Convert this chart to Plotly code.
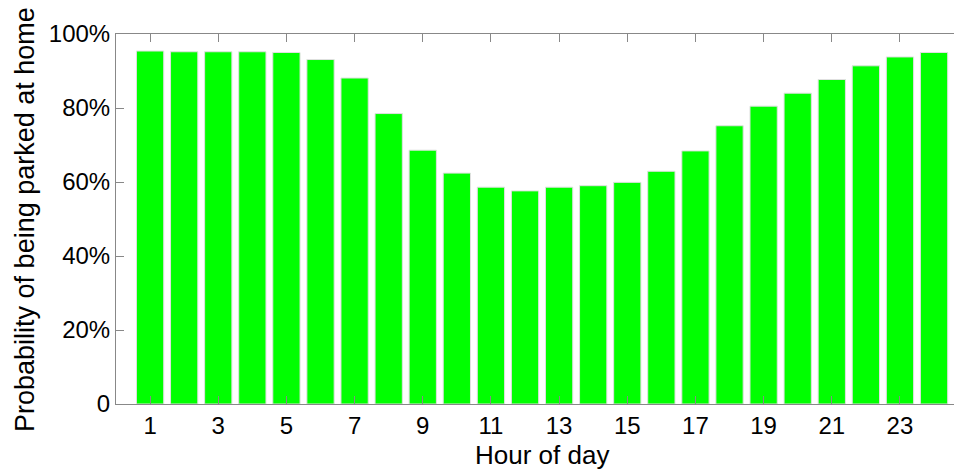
import plotly.graph_objects as go

# hourly probability of the car being parked at home
hours = list(range(1, 25))
prob_home = [0.954, 0.952, 0.952, 0.952, 0.950, 0.931, 0.881, 0.785, 0.686, 0.624, 0.586, 0.576,
             0.586, 0.590, 0.599, 0.629, 0.684, 0.752, 0.805, 0.840, 0.877, 0.914, 0.938, 0.950]

x_ticks = list(range(1, 24, 2))
y_ticks = [0, 0.2, 0.4, 0.6, 0.8, 1.0]
y_labels = ['0', '20%', '40%', '60%', '80%', '100%']

font = dict(family='Liberation Sans, Arial, sans-serif', size=24, color='black')

fig = go.Figure()

fig.add_trace(go.Bar(
    x=hours,
    y=prob_home,
    marker_color='#00ff00',
    marker_line_color='#e0e0e0',
    marker_line_width=1,
    width=0.8,
))

# page body adds an 8px offset, so the figure is a bit smaller than the window
fig.update_layout(
    width=954, height=463,
    margin=dict(l=108, r=0, t=26, b=67),
    plot_bgcolor='white',
    paper_bgcolor='white',
    font=font,
    showlegend=False,
)

fig.update_xaxes(
    range=[0, 24.82],
    tickvals=x_ticks,
    ticks='inside', ticklen=8, tickcolor='#888888',
    showline=True, linecolor='#888888', linewidth=1, mirror='ticks',
    showgrid=False, zeroline=False, automargin=False,
)

fig.update_yaxes(
    range=[0, 1],
    tickvals=y_ticks, ticktext=y_labels,
    ticks='inside', ticklen=8, tickcolor='#888888',
    showline=True, linecolor='#888888', linewidth=1, mirror='ticks',
    showgrid=False, zeroline=False, automargin=False,
)

# axis titles placed by hand to sit where the original has them
fig.add_annotation(text='Hour of day', xref='paper', yref='paper',
                   x=0.5035, y=-0.137, xanchor='center', yanchor='middle',
                   showarrow=False, font=dict(size=26))
fig.add_annotation(text='Probability of being parked at home', xref='paper', yref='paper',
                   x=-0.1076, y=0.5, xanchor='center', yanchor='middle', textangle=-90,
                   showarrow=False, font=dict(size=27))

fig.write_html("out.html")
